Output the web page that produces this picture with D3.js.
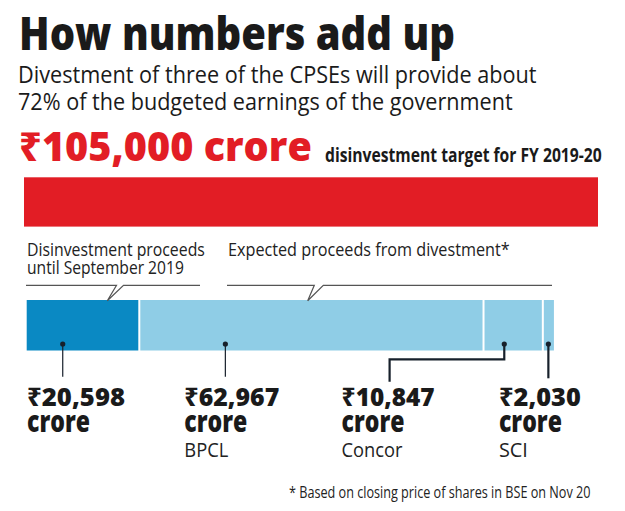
<!DOCTYPE html>
<html>
<head>
<meta charset="utf-8">
<script src="https://cdn.jsdelivr.net/npm/d3@7"></script>
<style>
  html, body { margin: 0; padding: 0; background: #fff; }
  svg { display: block; }
  text { font-family: "Open Sans", "Noto Sans", "DejaVu Sans", sans-serif; }
</style>
</head>
<body>
<svg id="chart" width="625" height="511"></svg>
<script>
// ---- data ----
const target = 105000;
const targetLabel = "₹105,000 crore";
const targetNote = "disinvestment target for FY 2019-20";
const segmentNames = ["Received", "BPCL", "Concor", "SCI"];
const segmentValues = [20598, 62967, 10847, 2030];
const valueLabels = ["₹20,598", "₹62,967", "₹10,847", "₹2,030"];
const companyLabels = ["", "BPCL", "Concor", "SCI"];
const groupLabels = [["Disinvestment proceeds", "until September 2019"], ["Expected proceeds from divestment*"]];

// ---- layout / style ----
const RED = "#e21d25", DARK = "#0a89c3", LIGHT = "#8fcde6", INK = "#1a1a1a", LEAD = "#17202b";
const svg = d3.select("#chart");

const x = d3.scaleLinear().domain([0, target]).range([24, 598]);
const barOffset = 2.7;
const bx = v => x(v) + barOffset;

// text helper: fits natural width to the wanted width by horizontal scaling
function txt(str, px, py, size, weight, fill, len) {
  const t = svg.append("text").attr("x", 0).attr("y", 0)
    .attr("font-size", size).attr("font-weight", weight).attr("fill", fill).text(str);
  let sx = 1;
  if (len) {
    const n = t.node().getComputedTextLength();
    if (n > 0) sx = len / n;
  }
  t.attr("transform", `translate(${px},${py}) scale(${sx},1)`);
  return t;
}

// Titles
txt("How numbers add up", 19, 50, 46, 800, INK, 436);
txt("Divestment of three of the CPSEs will provide about", 18, 82.7, 23, 400, INK, 519);
txt("72% of the budgeted earnings of the government", 18, 110, 23, 400, INK, 495);
txt(targetLabel, 19, 160.7, 40, 800, RED, 293);
txt(targetNote, 325, 161.5, 19, 700, INK, 277);

// Target bar
svg.append("rect").attr("x", x(0)).attr("y", 177.3)
  .attr("width", x(target) - x(0)).attr("height", 49.3).attr("fill", RED);

// Segments
let cum = 0;
const segs = segmentValues.map((v, i) => { const s = {i, v, start: cum, end: cum + v}; cum += v; return s; });
const last = segs.length - 1;
svg.selectAll("rect.seg").data(segs).enter().append("rect")
  .attr("class", "seg")
  .attr("x", d => bx(d.start) + (d.i > 0 ? 1 : 0))
  .attr("y", 300)
  .attr("width", d => bx(d.end) - bx(d.start) - (d.i > 0 ? 1 : 0) - (d.i < last ? 1 : 0))
  .attr("height", 50.5)
  .attr("fill", d => d.i === 0 ? DARK : LIGHT);

// Group labels
const labelSize = 18.5;
txt(groupLabels[0][0], 27, 256, labelSize, 400, "#222", 178);
txt(groupLabels[0][1], 27, 274, labelSize, 400, "#222", 157);
txt(groupLabels[1][0], 228, 256, labelSize, 400, "#222", 282);

// Brackets with callout tails
function bracket(x0, x1, a, b, tipX) {
  const y = 285.3;
  svg.append("path")
    .attr("d", `M${x0},${y}L${a},${y}L${tipX},300.8L${b},${y}L${x1},${y}`)
    .attr("fill", "none").attr("stroke", "#555").attr("stroke-width", 1.2);
}
bracket(26, 200, 116.5, 123.5, 107.3);
bracket(227, 552, 314.3, 323.3, 307.7);

// Anchor dots and leader lines
const anchorFrac = [0.32, 0.25, 0.35, 0.5];
const colX = i => 27 + i * 157.3;
const dotY = 344;
segs.forEach(d => {
  const ax = bx(d.start) + (bx(d.end) - bx(d.start)) * anchorFrac[d.i];
  let path, sw;
  if (d.i === 2) {
    const ex = colX(d.i) + 48;
    path = `M${ax},${dotY}V359.3H${ex}V381.7`; sw = 2.2;
  } else if (d.i === 3) {
    path = `M${ax},${dotY}V378.3`; sw = 2.2;
  } else {
    path = `M${ax},${dotY}V376.7`; sw = 1.2;
  }
  svg.append("path").attr("d", path).attr("fill", "none").attr("stroke", LEAD).attr("stroke-width", sw);
  svg.append("circle").attr("cx", ax).attr("cy", dotY).attr("r", 2.6).attr("fill", LEAD);
});

// Value labels
const valueLens = [98, 95, 93, 82];
const nameLens = [0, 44, 61, 29];
segs.forEach(d => {
  const lx = colX(d.i);
  txt(valueLabels[d.i], lx, 405.7, 25, 800, INK, valueLens[d.i]);
  txt("crore", lx, 431.7, 30, 800, INK, 63);
  if (companyLabels[d.i]) txt(companyLabels[d.i], lx, 456.7, 19.5, 400, "#222", nameLens[d.i]);
});

// Footnote
txt("* Based on closing price of shares in BSE on Nov 20", 289, 498.3, 15.5, 400, "#222", 302);
</script>
</body>
</html>
